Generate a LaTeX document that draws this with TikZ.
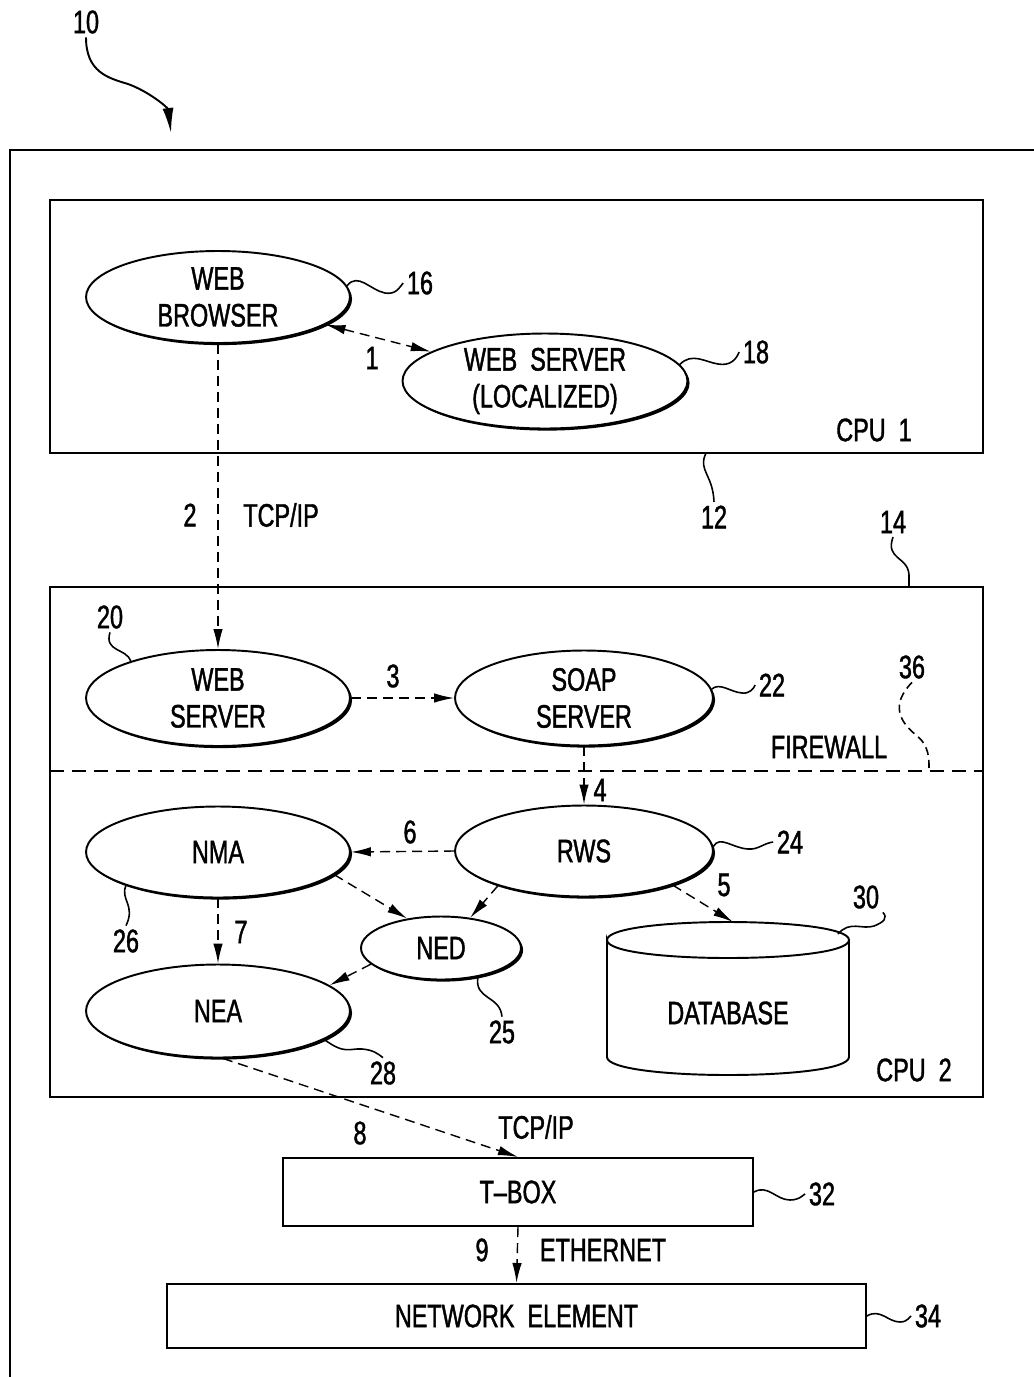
\documentclass[tikz,border=0pt]{standalone}
\usepackage{fontspec}
\setmainfont[FakeStretch=0.72,FakeBold=1.3]{Liberation Sans}
\usetikzlibrary{shapes.geometric,arrows.meta,shadows}

\begin{document}
\begin{tikzpicture}
  [x=0.02cm,y=-0.02cm,font=\fontsize{18.5}{21}\selectfont,
   >={Latex[length=4mm,width=1.9mm]},
   proc/.style={ellipse,draw,line width=1.1pt,fill=white,inner sep=0pt,align=center,
     minimum width=5.28cm,minimum height=1.84cm,
     drop shadow={shadow xshift=1.2pt,shadow yshift=-1.2pt,opacity=1,fill=black}},
   unit/.style={rectangle,draw,line width=1.2pt,fill=white,inner sep=0pt,
     drop shadow={shadow xshift=0.8pt,shadow yshift=-0.8pt,opacity=1,fill=black}},
   flow/.style={line width=0.8pt,dash pattern=on 2mm off 1.2mm,->},
   lead/.style={line width=0.9pt},
   num/.style={inner sep=2pt},
   txt/.style={inner sep=0pt}]
\useasboundingbox (0,0) rectangle (1034,1377);

  % whole system
  \draw[line width=1.1pt] (1034,150) -- (10,150) -- (10,1377);
  \node[num] (n10) at (86,22) {10};
  \coordinate (c10) at (171,133);
  \draw[line width=1.1pt,-{Latex[length=5mm,width=2.2mm]}] (n10.south) .. controls (86,72) and (108,78) .. (128,84)
    .. controls (150,92) and (168,108) .. (c10);

  % CPU 1
  \node[unit,minimum width=18.66cm,minimum height=5.06cm] (cpu1) at (516.5,326.5) {};
  \node[txt] (cpu1lbl) at (874,430) {CPU \ 1};
  \node[proc] (wb) at (218,297) {WEB\\BROWSER};
  \node[proc,minimum width=5.7cm,minimum height=1.9cm] (wsl) at (545,381) {WEB \ SERVER\\(LOCALIZED)};
  \node[num] (n16) at (420,283) {16};
  \node[num] (n18) at (756,352) {18};
  \node[num] (n12) at (714,517) {12};

  \draw[flow,<->] (wb) -- (wsl);
  \node[txt] (l1) at (372,358) {1};

  \draw[lead] (wb.5) .. controls (358,272) and (370,290) .. (385,293) .. controls (396,295) and (400,287) .. (n16.west);
  \draw[lead] (wsl.7) .. controls (692,352) and (705,362) .. (718,364) .. controls (730,366) and (736,360) .. (n18.west);
  \draw[lead] (cpu1.-34.3) .. controls (698,470) and (713,475) .. (n12.north);

  % link to CPU 2
  \node[txt] (l2) at (190,515) {2};
  \node[txt] (tcp1) at (281,515) {TCP/IP};

  % CPU 2
  \node[unit,minimum width=18.66cm,minimum height=10.2cm] (cpu2) at (516.5,842) {};
  \node[txt] (cpu2lbl) at (914,1070) {CPU \ 2};
  \node[num] (n14) at (893,522) {14};
  \coordinate (c14) at (909,587);
  \draw[lead] (n14.south) .. controls (885,560) and (908,556) .. (909,575) -- (c14);

  \node[proc,minimum height=1.92cm] (ws) at (218,698) {WEB\\SERVER};
  \node[proc,minimum width=5.16cm,minimum height=1.9cm] (soap) at (584,698) {SOAP\\SERVER};
  \node[num] (n20) at (110,617) {20};
  \node[num] (n22) at (772,685) {22};
  \draw[lead] (n20.south) .. controls (104,652) and (126,648) .. (ws.157);
  \draw[lead] (soap.4) .. controls (720,682) and (730,692) .. (742,693) .. controls (750,694) and (754,688) .. (n22.west);

  \draw[flow] (wb.south) -- (ws.north);
  \draw[flow] (ws.east) -- (soap.west);
  \node[txt] (l3) at (393,676) {3};

  % firewall
  \draw[line width=1pt,dash pattern=on 2.8mm off 1.6mm] (50,771) -- (983,771);
  \node[txt] (fw) at (829,747) {FIREWALL};
  \node[num] (n36) at (912,667) {36};
  \coordinate (c36) at (929,771);
  \draw[lead,dash pattern=on 1.6mm off 1mm] (n36.south) .. controls (890,705) and (900,722) .. (916,735)
    .. controls (930,746) and (929,760) .. (c36);

  \node[proc,minimum width=5.16cm,minimum height=1.82cm] (rws) at (584,851) {RWS};
  \node[proc,minimum height=1.82cm] (nma) at (218,852) {NMA};
  \node[proc,minimum width=3.2cm,minimum height=1.26cm] (ned) at (441,948) {NED};
  \node[proc,minimum height=1.86cm] (nea) at (218,1011) {NEA};
  \node[num] (n24) at (790,842) {24};
  \node[num] (n26) at (126,941) {26};
  \node[num] (n25) at (502,1032) {25};
  \node[num] (n28) at (383,1073) {28};

  \draw[flow] (soap.south) -- (rws.north);
  \node[txt] (l4) at (600,790) {4};
  \draw[flow] (rws.west) -- (nma.east);
  \node[txt] (l6) at (410,832) {6};
  \draw[flow] (nma.south) -- (nea.north);
  \node[txt] (l7) at (241,932) {7};
  \draw[flow] (nma.-11) -- (ned.139);
  \draw[flow] (rws.202) -- (ned.46);
  \draw[flow] (ned.193) -- (nea.13);

  \draw[lead] (rws.2) .. controls (720,835) and (732,848) .. (748,849) .. controls (758,850) and (764,843) .. (n24.west);
  \draw[lead] (nma.200) .. controls (120,900) and (136,905) .. (n26.north);
  \draw[lead] (ned.-38) .. controls (474,1000) and (500,995) .. (n25.north);
  \draw[lead] (nea.-15) .. controls (345,1055) and (350,1048) .. (362,1049) .. controls (374,1050) and (378,1054) .. (n28.north);

  % database
  \node[minimum width=4.84cm,minimum height=3.06cm] (db) at (728,999) {};
  \draw[line width=1.1pt,fill=white] (607,940) .. controls (607,916) and (849,916) .. (849,940)
    .. controls (849,964) and (607,964) .. (607,940) -- (607,1057)
    .. controls (607,1081) and (849,1081) .. (849,1057) -- (849,940);
  \node[txt] (dbtext) at (728,1013) {DATABASE};
  \coordinate (dbtop) at (733,922);
  \draw[flow] (rws.-21) -- (dbtop);
  \node[txt] (l5) at (724,885) {5};
  \node[num] (n30) at (866,897) {30};
  \draw[lead] (838,934) .. controls (850,920) and (862,930) .. (874,926) .. controls (884,922) and (888,918) .. (n30.south east);

  % outside boxes
  \node[unit,minimum width=9.4cm,minimum height=1.36cm] (tbox) at (518,1192) {T--BOX};
  \node[unit,minimum width=13.98cm,minimum height=1.28cm] (ne) at (516.5,1316) {NETWORK \ ELEMENT};
  \node[num] (n32) at (822,1194) {32};
  \node[num] (n34) at (928,1316) {34};

  \draw[flow] (nea.-84) -- (tbox.north);
  \node[txt] (l8) at (360,1133) {8};
  \node[txt] (tcp2) at (536,1127) {TCP/IP};
  \draw[flow] (tbox.south) -- (ne.north);
  \node[txt] (l9) at (482,1250) {9};
  \node[txt] (eth) at (603,1250) {ETHERNET};

  \draw[lead] (tbox.east) .. controls (768,1184) and (776,1200) .. (790,1200) .. controls (800,1200) and (804,1194) .. (n32.west);
  \draw[lead] (ne.east) .. controls (880,1308) and (888,1322) .. (900,1322) .. controls (908,1322) and (910,1316) .. (n34.west);
\end{tikzpicture}
\end{document}
